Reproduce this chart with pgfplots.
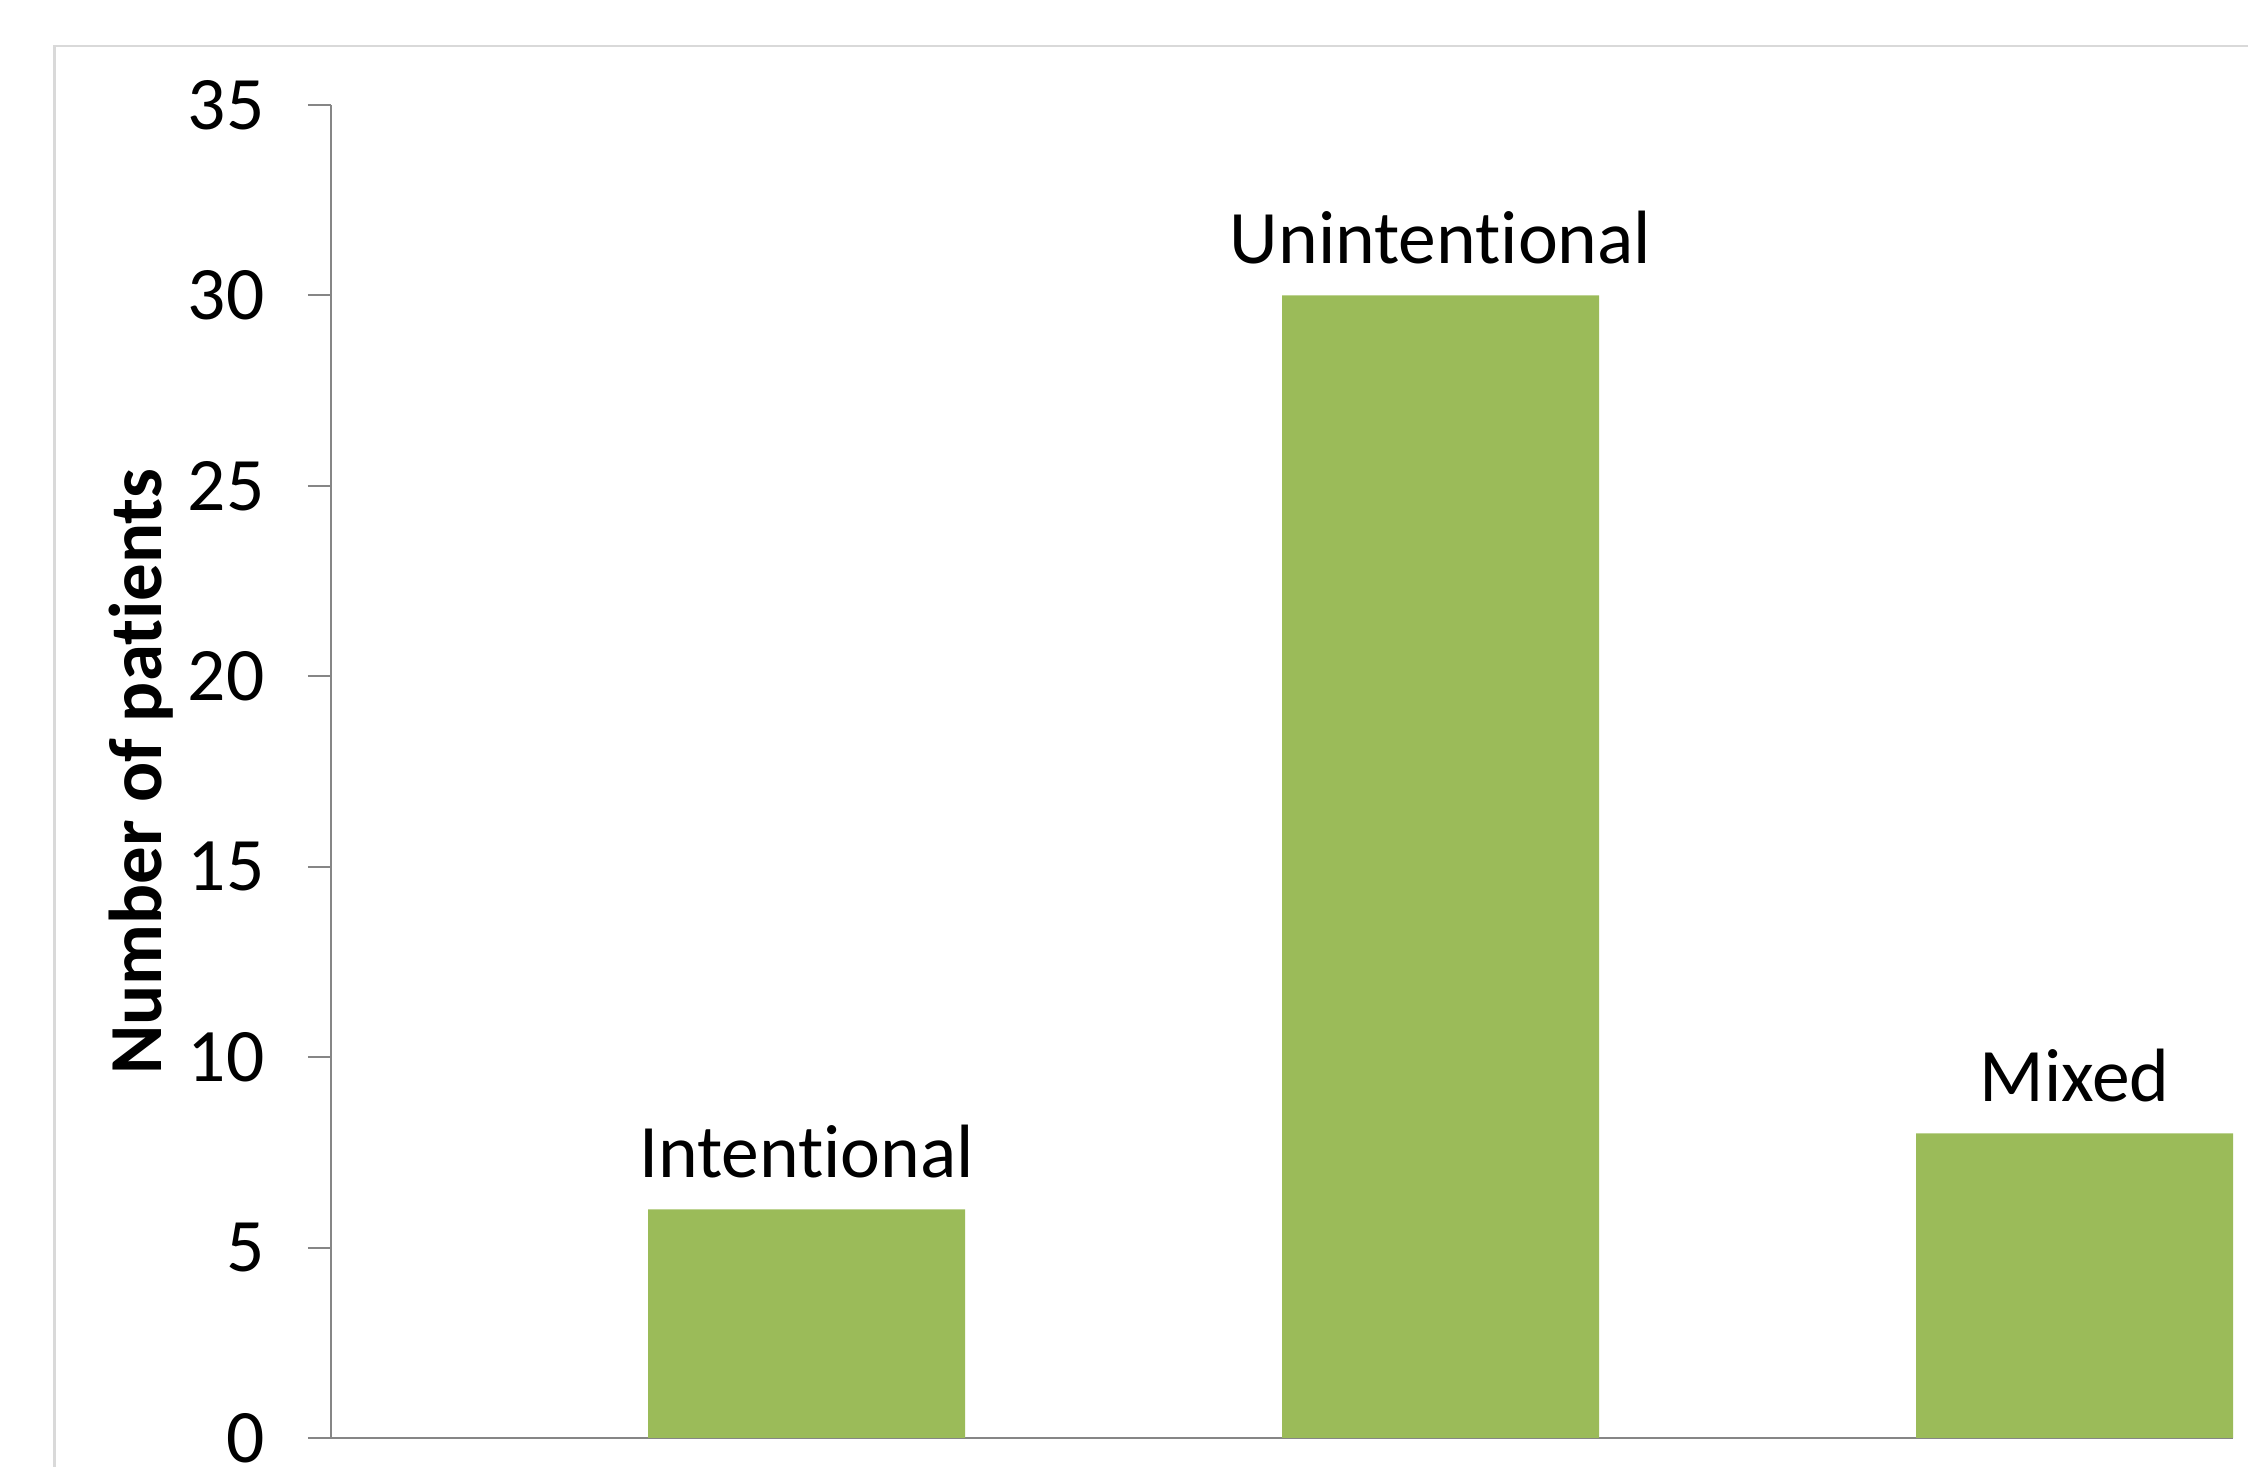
\documentclass[border=0pt]{standalone}
\usepackage{pgfplots}
\pgfplotsset{compat=1.18}
\usepackage{fontspec}
\setmainfont{Carlito}[Ligatures=NoCommon]
\definecolor{barg}{HTML}{9BBB59}
\definecolor{axg}{HTML}{868686}
\definecolor{frameg}{HTML}{D9D9D9}
\begin{document}
\begin{tikzpicture}
\useasboundingbox (0,0) rectangle (224.8mm,146.7mm);
\draw[frameg, line width=0.25mm] (5.45mm,-20mm) -- (5.45mm,142.1mm) -- (260mm,142.1mm);
\begin{axis}[
 at={(33.1mm,2.9mm)}, anchor=south west,
 scale only axis, width=190.2mm, height=133.3mm,
 xmin=0.25, xmax=3.25, ymin=0, ymax=35,
 axis x line=bottom, axis y line=left,
 axis line style={axg, line width=0.2mm, -},
 xtick=\empty, ytick={0,5,...,35},
 tick align=outside, major tick length=2.3mm,
 y tick style={axg, line width=0.2mm},
 yticklabel style={font=\fontsize{21.5}{25}\selectfont, text=black, xshift=-3.1mm},
 /pgf/number format/assume math mode=true,
 ylabel={\textbf{Number of patients}},
 ylabel style={at={(axis description cs:-0.100,0.5)}, anchor=center, font=\fontsize{21.3}{25}\selectfont},
 ybar, bar width=0.5, bar shift=0pt,
 nodes near coords, point meta=explicit symbolic,
 nodes near coords style={font=\fontsize{21.5}{25}\selectfont, text=black, yshift=1.9mm},
 clip=false,
]
\addplot[fill=barg, draw=none] coordinates {(1,6) [Intentional] (2,30) [Unintentional] (3,8) [Mixed]};
\end{axis}
\end{tikzpicture}
\end{document}
